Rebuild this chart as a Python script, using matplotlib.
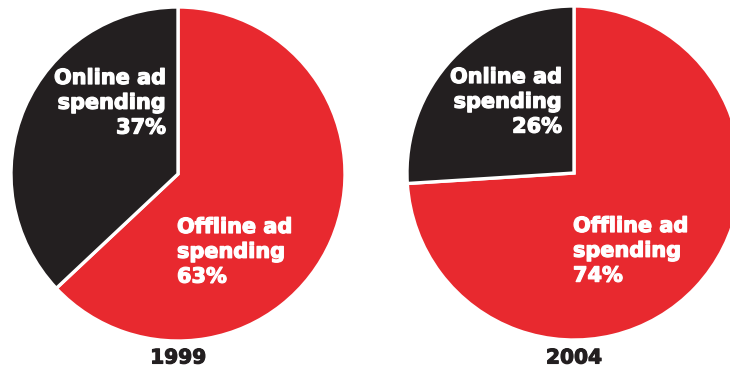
import matplotlib.pyplot as plt
import matplotlib.patheffects as pe

RED = '#e8292f'
BLACK = '#231f20'

years = ['1999', '2004']
offline_share = [63, 74]
online_share = [37, 26]

# pie placement in pixel units (y measured upward from bottom)
centers = [(178, 196), (574, 197)]
radius = 167

heavy = [pe.withStroke(linewidth=0.9, foreground='white')]

fig = plt.figure(figsize=(7.3, 3.7), dpi=100)
ax = fig.add_axes([0, 0, 1, 1])

for (cx, cy), year, off, on in zip(centers, years, offline_share, online_share):
    ax.pie([off, on], colors=[RED, BLACK], startangle=90, counterclock=False,
           center=(cx, cy), radius=radius, frame=True,
           wedgeprops=dict(edgecolor='white', linewidth=2.4))

    ax.text(cx - 12, cy + 106, f'Online ad\nspending\n{on}%', ha='right', va='top',
            color='white', fontsize=15, fontweight='bold', linespacing=1.3,
            path_effects=heavy)
    ax.text(cx - 1, cy - 43, f'Offline ad\nspending\n{off}%', ha='left', va='top',
            color='white', fontsize=15, fontweight='bold', linespacing=1.3,
            path_effects=heavy)
    ax.text(cx, 12, year, ha='center', va='center', color=BLACK,
            fontsize=14.5, fontweight='bold',
            path_effects=[pe.withStroke(linewidth=0.8, foreground=BLACK)])

ax.set_xlim(0, 730)
ax.set_ylim(0, 370)
ax.set_aspect('equal')
ax.axis('off')

fig.savefig('out.png', dpi=100)
